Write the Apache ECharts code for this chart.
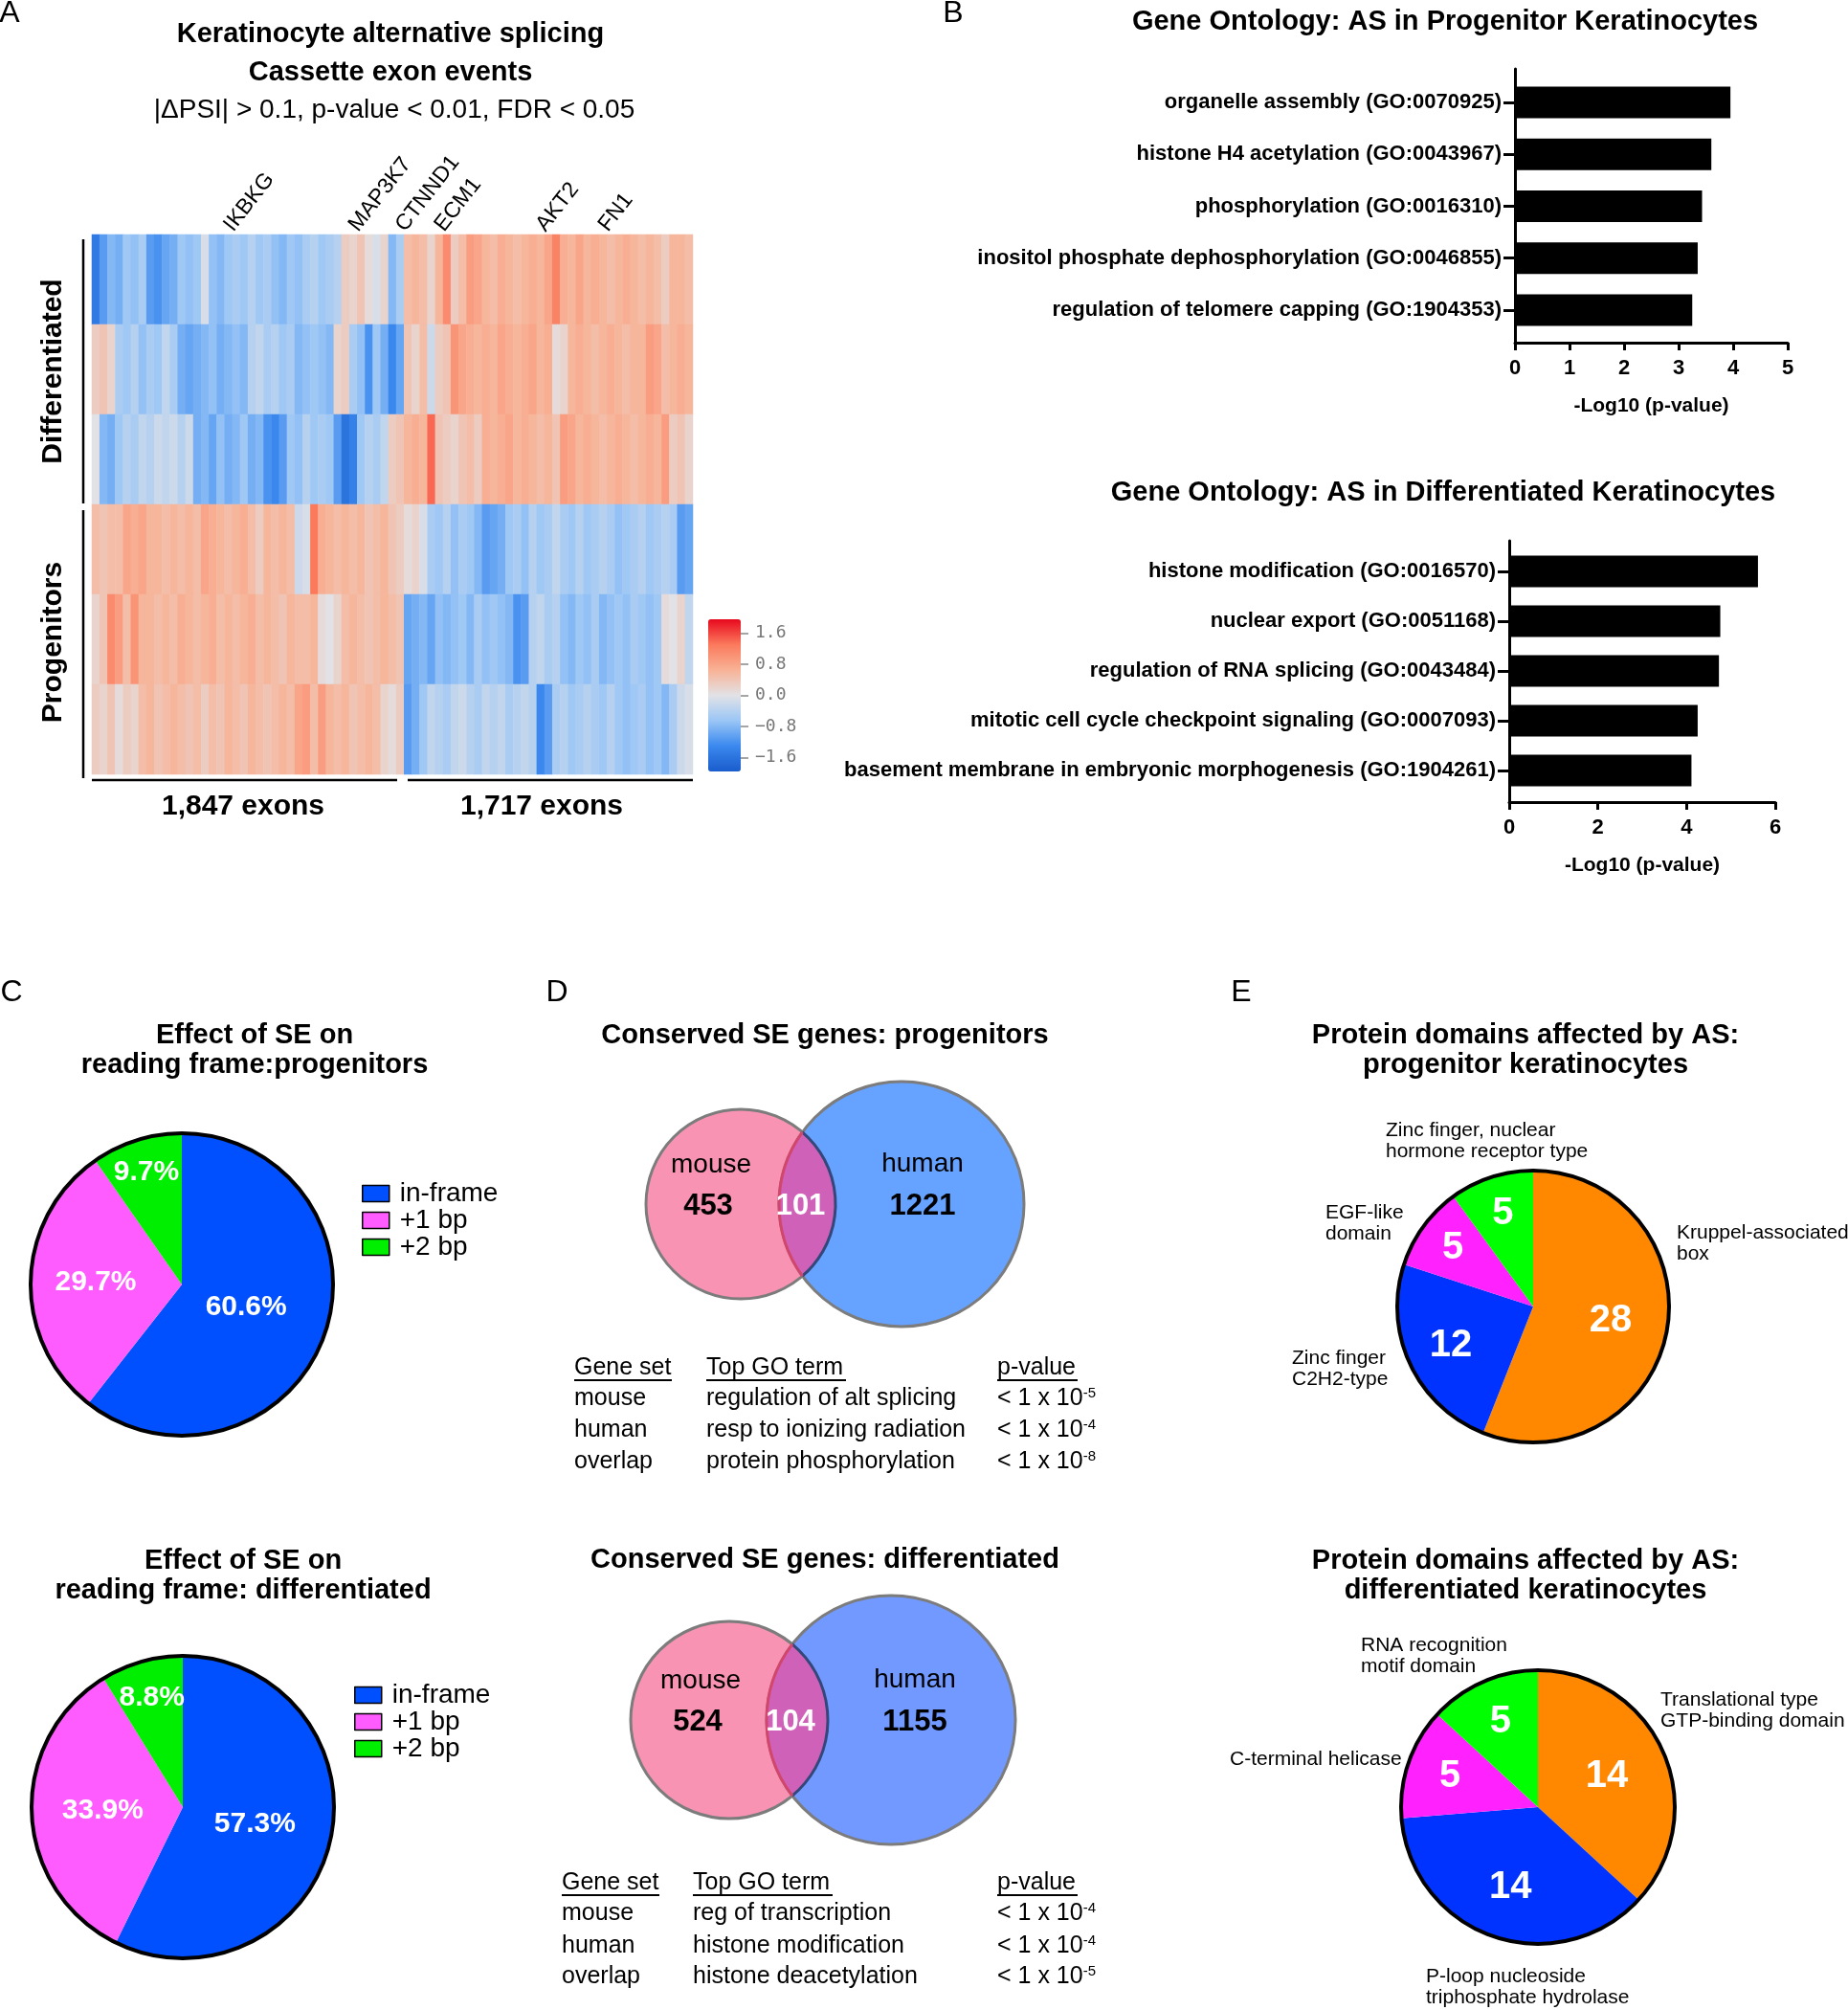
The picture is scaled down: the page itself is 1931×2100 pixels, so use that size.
<!DOCTYPE html>
<html>
<head>
<meta charset="utf-8">
<script src="https://cdn.jsdelivr.net/npm/echarts@6/dist/echarts.min.js"></script>
<style>
html,body{margin:0;padding:0;background:#fff;}
#c{width:1931px;height:2100px;}
</style>
</head>
<body>
<div id="c"></div>
<script>
// ======================= DATA =======================
// Panel A: heatmap (z-scored PSI), 40 columns of "1,847 exons" block + 37 columns of "1,717 exons" block
const heatRows = ['Differentiated 1','Differentiated 2','Differentiated 3','Progenitors 1','Progenitors 2','Progenitors 3'];
const heatDiff1 = [-1.5,-1.1,-0.8,-0.9,-0.6,-0.7,-0.5,-1.1,-1.2,-1.0,-0.9,-0.6,-0.7,-0.6,-0.1,-0.7,-0.8,-0.6,-0.5,-0.6,-0.4,-0.6,-0.5,-0.7,-0.8,-0.6,-0.7,-0.5,-0.4,-0.6,-0.5,-0.4,0.3,0.2,0.4,0.1,-0.1,0.2,-0.8,-0.5,
  0.5,0.6,0.5,0.2,0.6,1.1,0.3,0.5,0.9,0.8,0.6,0.5,0.7,0.6,0.5,0.6,0.7,0.6,0.8,1.2,0.7,0.6,0.8,0.6,0.7,0.6,0.5,0.6,0.7,0.6,0.5,0.6,0.5,0.3,0.6,0.6,0.5];
const heatDiff2 = [0.3,0.4,0.2,-0.5,-0.6,-0.4,-0.7,-0.5,-0.6,-0.3,-0.5,-0.9,-1.0,-0.9,-0.8,-0.7,-0.9,-0.8,-0.7,-0.8,-0.4,-0.3,-0.5,-0.4,-0.6,-0.5,-0.8,-0.7,-0.6,-0.7,-0.8,0.2,0.3,-0.5,-0.7,-1.2,-0.6,-0.9,-1.3,-1.0,
  0.4,0.2,0.5,-0.2,0.3,0.4,1.0,0.8,0.7,0.6,0.7,0.6,0.8,0.7,0.6,0.7,0.8,0.6,0.7,0.1,0.2,0.6,0.7,0.6,0.5,0.6,0.7,0.6,0.5,0.6,0.6,0.9,0.8,0.5,0.6,0.7,0.6];
const heatDiff3 = [0.0,-0.8,-0.9,-0.6,-0.4,-0.5,-0.3,-0.4,-0.2,-0.3,-0.2,-0.4,-0.2,-0.9,-0.8,-1.0,-0.7,-0.9,-0.8,-0.6,-0.9,-0.8,-1.2,-1.3,-1.1,-0.6,-0.7,-0.4,-0.6,-0.5,-0.6,-1.1,-1.6,-1.4,-0.6,-0.4,-0.5,-0.3,0.3,0.4,
  0.6,0.7,0.6,1.4,0.4,0.3,0.2,0.4,0.5,0.3,0.7,0.6,0.7,0.8,0.6,0.7,0.6,0.5,0.6,0.4,0.9,0.8,0.6,0.7,0.6,0.5,0.6,0.7,0.6,0.5,0.6,0.7,0.6,0.9,0.3,0.4,0.2];
const heatProg1 = [0.5,0.4,0.5,0.5,0.8,0.7,0.8,0.6,0.6,0.5,0.6,0.5,0.6,0.5,0.8,0.7,0.6,0.5,0.6,0.7,0.5,0.3,0.6,0.5,0.6,0.5,-0.2,-0.1,1.3,0.7,0.6,0.5,0.6,0.5,0.6,0.4,0.5,0.6,0.4,0.3,
  0.1,0.2,-0.1,-0.5,-0.6,-0.4,-0.7,-0.5,-0.6,-0.8,-1.1,-1.0,-0.9,-0.6,-0.5,-0.7,-0.4,-0.6,-0.5,-0.3,-0.5,-0.6,-0.4,-0.6,-0.5,-0.4,-0.5,-0.7,-0.6,-0.5,-0.4,-0.6,-0.5,-0.4,-0.5,-1.1,-1.0];
const heatProg2 = [0.2,0.4,1.1,0.9,0.5,1.0,0.6,0.6,0.5,0.6,0.5,0.7,0.6,0.5,0.6,0.7,0.5,0.6,0.5,0.6,0.7,0.5,0.6,0.5,0.4,0.6,0.5,0.5,0.6,0.1,0.0,0.2,0.5,0.6,0.5,0.4,0.5,0.6,0.5,0.4,
  -1.0,-0.9,-0.8,-1.0,-0.7,-0.8,-0.7,-0.6,-0.8,-0.5,-0.7,-0.6,-0.7,-0.8,-1.2,-1.1,-0.4,-0.3,-0.5,-0.4,-0.7,-0.8,-0.6,-0.7,-0.5,-0.8,-0.7,-0.6,-0.7,-0.5,-0.6,-0.7,-0.6,0.1,0.0,0.2,-0.3];
const heatProg3 = [0.3,0.2,0.4,0.1,0.3,0.2,0.5,0.6,0.4,0.5,0.6,0.5,0.4,0.5,0.3,0.5,0.4,0.6,0.5,0.4,0.6,0.5,0.4,0.5,0.6,0.5,0.8,0.9,0.5,0.9,0.6,0.5,0.6,0.4,0.5,0.6,0.5,0.2,0.1,0.3,
  -1.1,-0.9,-0.6,-0.3,-0.4,-0.5,-0.3,-0.2,-0.4,-0.5,-0.3,-0.4,-0.3,-0.5,-0.4,-0.3,-0.4,-1.3,-1.1,-0.5,-0.4,-0.6,-0.5,-0.4,-0.5,-0.6,-0.4,-0.6,-0.7,-0.6,-0.5,-0.7,-0.6,-0.8,-0.5,-0.2,-0.1];
const geneLabels = ['IKBKG','MAP3K7','CTNND1','ECM1','AKT2','FN1'];
const geneColumns = [17,33,39,44,57,65];
const exonBlocks = ['1,847 exons','1,717 exons'];
const colorbarTicks = [1.6,0.8,0,-0.8,-1.6];

// Panel B: GO enrichment (-log10 p)
const goProgTerms = ['organelle assembly (GO:0070925)','histone H4 acetylation (GO:0043967)','phosphorylation (GO:0016310)','inositol phosphate dephosphorylation (GO:0046855)','regulation of telomere capping (GO:1904353)'];
const goProgValues = [3.95,3.60,3.43,3.35,3.25];
const goDiffTerms = ['histone modification (GO:0016570)','nuclear export (GO:0051168)','regulation of RNA splicing (GO:0043484)','mitotic cell cycle checkpoint signaling (GO:0007093)','basement membrane in embryonic morphogenesis (GO:1904261)'];
const goDiffValues = [5.61,4.76,4.73,4.25,4.11];

// Panel C: reading frame (%)
const frameNames = ['in-frame','+1 bp','+2 bp'];
const frameProg = [60.6,29.7,9.7];
const frameDiff = [57.3,33.9,8.8];

// Panel D: Venn counts [mouse only, overlap, human only]
const vennSetNames = ['mouse','human'];
const vennProg = [453,101,1221];
const vennDiff = [524,104,1155];
const tableHeaders = ['Gene set','Top GO term','p-value'];
const tableSets = ['mouse','human','overlap'];
const tableProgTerms = ['regulation of alt splicing','resp to ionizing radiation','protein phosphorylation'];
const tableProgExp = ['-5','-4','-8'];
const tableDiffTerms = ['reg of transcription','histone modification','histone deacetylation'];
const tableDiffExp = ['-4','-4','-5'];

// Panel E: protein domains (counts)
const domProgNames = ['Kruppel-associated\nbox','Zinc finger\nC2H2-type','EGF-like\ndomain','Zinc finger, nuclear\nhormone receptor type'];
const domProgValues = [28,12,5,5];
const domDiffNames = ['Translational type\nGTP-binding domain','P-loop nucleoside\ntriphosphate hydrolase','C-terminal helicase','RNA recognition\nmotif domain'];
const domDiffValues = [14,14,5,5];

// ======================= STYLE / LAYOUT =======================
const FONT = "'Liberation Sans', Arial, Helvetica, sans-serif";
const frameColors = ['#0050ff','#ff5cff','#00ee00'];
const domColors = ['#ff8800','#0033ff','#ff22ff','#00ff00'];
const heatColors = ['#1a5ccc','#3a88ee','#9ac6f6','#e2e2e6','#f8b296','#fb7a5c','#e8081e'];

const chart = echarts.init(document.getElementById('c'), null, {renderer:'canvas', width:1931, height:2100});

// ---- heatmap data ----
const heatAll = [heatDiff1, heatDiff2, heatDiff3, heatProg1, heatProg2, heatProg3];
const nCols = heatDiff1.length;
const colCats = Array.from({length:nCols}, (_, i) => 'c' + i);
const heatData = [];
heatAll.forEach((row, r) => row.forEach((v, c) => heatData.push([c, r, v])));

const grids = [
  {left:96, top:245, width:628, height:564},        // 0 heatmap
  {left:773, top:647, width:1, height:159},         // 1 colorbar ticks
  {left:1583, top:72, width:285, height:286},       // 2 B1 frame
  {left:1583, top:80, width:285, height:271},       // 3 B1 bars
  {left:1577, top:565, width:278, height:273},      // 4 B2 frame
  {left:1577, top:571, width:278, height:260},      // 5 B2 bars
  {left:774, top:1158, width:168, height:200},      // 6 venn D1
  {left:762, top:1697, width:169, height:200}       // 7 venn D2
].map(g => Object.assign({containLabel:false}, g));

const boldAx = {fontFamily:FONT, fontWeight:'bold', color:'#000'};
const hidden = {show:false};

const xAxes = [
  {gridIndex:0, type:'category', data:colCats, position:'top', axisLine:hidden, axisTick:hidden, splitLine:hidden,
    axisLabel:{interval:0, rotate:-52, margin:6, fontFamily:FONT, fontSize:23, color:'#000',
      formatter:(v, i) => { const k = geneColumns.indexOf(i); return k >= 0 ? geneLabels[k] : ''; }}},
  {gridIndex:1, type:'value', show:false},
  {gridIndex:2, type:'value', min:0, max:5, interval:1,
    axisLine:{show:true, onZero:false, lineStyle:{color:'#000', width:3}},
    axisTick:{show:true, length:8, lineStyle:{color:'#000', width:3}},
    axisLabel:Object.assign({fontSize:22, margin:16}, boldAx), splitLine:hidden,
    name:'-Log10 (p-value)', nameLocation:'middle', nameGap:56, nameTextStyle:Object.assign({fontSize:21}, boldAx)},
  {gridIndex:3, type:'value', min:0, max:5, show:false},
  {gridIndex:4, type:'value', min:0, max:6, interval:2,
    axisLine:{show:true, onZero:false, lineStyle:{color:'#000', width:3}},
    axisTick:{show:true, length:8, lineStyle:{color:'#000', width:3}},
    axisLabel:Object.assign({fontSize:22, margin:16}, boldAx), splitLine:hidden,
    name:'-Log10 (p-value)', nameLocation:'middle', nameGap:56, nameTextStyle:Object.assign({fontSize:21}, boldAx)},
  {gridIndex:5, type:'value', min:0, max:6, show:false},
  {gridIndex:6, type:'value', min:0, max:1, show:false},
  {gridIndex:7, type:'value', min:0, max:1, show:false}
];
const yAxes = [
  {gridIndex:0, type:'category', data:heatRows, inverse:true, show:false},
  {gridIndex:1, type:'value', min:-1.95, max:1.95, position:'right', axisLine:hidden, splitLine:hidden,
    axisTick:{show:true, customValues:colorbarTicks, length:9, lineStyle:{color:'#888', width:1.5}},
    axisLabel:{customValues:colorbarTicks, margin:15, fontFamily:"'DejaVu Sans Mono', monospace", fontSize:18, color:'#777',
      formatter:v => (v < 0 ? '\u2212' : '') + Math.abs(v).toFixed(1)}},
  {gridIndex:2, type:'value', min:0, max:1, axisLine:{show:true, lineStyle:{color:'#000', width:3}}, axisTick:hidden, axisLabel:hidden, splitLine:hidden},
  {gridIndex:3, type:'category', data:goProgTerms, inverse:true, axisLine:hidden,
    axisTick:{show:true, alignWithLabel:true, length:12, lineStyle:{color:'#000', width:3}},
    axisLabel:Object.assign({fontSize:22, margin:14, interval:0}, boldAx)},
  {gridIndex:4, type:'value', min:0, max:1, axisLine:{show:true, lineStyle:{color:'#000', width:3}}, axisTick:hidden, axisLabel:hidden, splitLine:hidden},
  {gridIndex:5, type:'category', data:goDiffTerms, inverse:true, axisLine:hidden,
    axisTick:{show:true, alignWithLabel:true, length:12, lineStyle:{color:'#000', width:3}},
    axisLabel:Object.assign({fontSize:22, margin:14, interval:0}, boldAx)},
  {gridIndex:6, type:'value', min:-1, max:1, show:false},
  {gridIndex:7, type:'value', min:-1, max:1, show:false}
];

const series = [];
series.push({type:'heatmap', name:'heat', xAxisIndex:0, yAxisIndex:0, data:heatData,
  itemStyle:{borderWidth:0}, emphasis:{disabled:true}, silent:true});
series.push({type:'bar', name:'goProg', xAxisIndex:3, yAxisIndex:3, data:goProgValues, barWidth:33, itemStyle:{color:'#000'}, silent:true});
series.push({type:'bar', name:'goDiff', xAxisIndex:5, yAxisIndex:5, data:goDiffValues, barWidth:33, itemStyle:{color:'#000'}, silent:true});

// ---- pies ----
function pieSet(id, names, values, colors, center, r, fracs, fmt, fontSize, nameOffsets) {
  const total = values.reduce((a, b) => a + b, 0);
  const mids = []; let acc = 0;
  values.forEach(v => { mids.push((acc + v / 2) / total * 2 * Math.PI); acc += v; });
  const out = [];
  out.push({type:'pie', name:id, center:center, radius:[0, r], startAngle:90, clockwise:true,
    avoidLabelOverlap:false, silent:true, emphasis:{disabled:true},
    data:names.map((n, i) => ({name:n, value:values[i], itemStyle:{color:colors[i]}})),
    itemStyle:{borderWidth:0},
    label:{show:true, position:'inside', formatter:fmt, color:'#fff', fontFamily:FONT, fontWeight:'bold', fontSize:fontSize},
    labelLine:{show:false},
    labelLayout:p => ({x:center[0] + Math.sin(mids[p.dataIndex]) * r * fracs[p.dataIndex],
                       y:center[1] - Math.cos(mids[p.dataIndex]) * r * fracs[p.dataIndex],
                       align:'center', verticalAlign:'middle'})});
  if (nameOffsets) {
    out.push({type:'pie', name:id + 'names', center:center, radius:[0, r], startAngle:90, clockwise:true,
      avoidLabelOverlap:false, silent:true, emphasis:{disabled:true},
      data:names.map((n, i) => ({name:n, value:values[i]})),
      itemStyle:{color:'rgba(0,0,0,0)', borderWidth:0},
      label:{show:true, position:'outside', alignTo:'none', formatter:'{b}', color:'#000', fontFamily:FONT, fontSize:21, lineHeight:22},
      labelLine:{show:false},
      labelLayout:p => ({x:center[0] + nameOffsets[p.dataIndex][0], y:center[1] + nameOffsets[p.dataIndex][1], align:'left', verticalAlign:'middle'})});
  }
  out.push({type:'pie', name:id + 'outline', center:center, radius:[0, r], silent:true, emphasis:{disabled:true},
    data:[{name:'outline', value:1}], itemStyle:{color:'rgba(0,0,0,0)', borderColor:'#000', borderWidth:4},
    label:{show:false}, labelLine:{show:false}, z:5});
  return out;
}
series.push(...pieSet('frameProg', frameNames, frameProg, frameColors, [190, 1342], 158, [0.45, 0.57, 0.78], '{c}%', 30));
series.push(...pieSet('frameDiff', frameNames, frameDiff, frameColors, [191, 1888], 158, [0.49, 0.53, 0.75], '{c}%', 30));
series.push(...pieSet('domProg', domProgNames, domProgValues, domColors, [1602, 1365], 142, [0.58, 0.67, 0.73, 0.72], '{c}', 40,
  [[150, -66], [-252, 65], [-217, -87], [-154, -173]]));
series.push(...pieSet('domDiff', domDiffNames, domDiffValues, domColors, [1607, 1888], 143, [0.55, 0.62, 0.68, 0.68], '{c}', 40,
  [[128, -101], [-117, 188], [-322, -50], [-185, -158]]));

// ---- venn (custom series) ----
function vennSeries(gridIdx, counts, radii, humanColor, dxMouse, dxHuman) {
  return {type:'custom', name:'venn' + gridIdx, xAxisIndex:gridIdx, yAxisIndex:gridIdx, silent:true,
    data:[[0, 1]],
    renderItem:function(params, api) {
      const pm = api.coord([api.value(0), 0]);
      const ph = api.coord([api.value(1), 0]);
      const rm = radii[0], rh = radii[1];
      const d = ph[0] - pm[0];
      const a = (d * d + rm * rm - rh * rh) / (2 * d);
      const h = Math.sqrt(rm * rm - a * a);
      const x1 = pm[0] + a, yT = pm[1] - h, yB = pm[1] + h;
      const lens = `M${x1} ${yT} A${rm} ${rm} 0 0 1 ${x1} ${yB} A${rh} ${rh} 0 0 1 ${x1} ${yT} Z`;
      const arcM = `M${x1} ${yT} A${rm} ${rm} 0 0 1 ${x1} ${yB}`;
      const arcH = `M${x1} ${yB} A${rh} ${rh} 0 0 1 ${x1} ${yT}`;
      const lensMid = ((ph[0] - rh) + (pm[0] + rm)) / 2 - 7;
      const txt = (x, y, t, font, fill) => ({type:'text', x:x, y:y,
        style:{text:t, font:font, fill:fill, align:'center', verticalAlign:'middle', textAlign:'center', textVerticalAlign:'middle'}});
      const nameFont = '28px ' + FONT, numFont = 'bold 31px ' + FONT;
      return {type:'group', children:[
        {type:'circle', shape:{cx:pm[0], cy:pm[1], r:rm}, style:{fill:'#f993b3', stroke:'#7c7c7c', lineWidth:3}},
        {type:'circle', shape:{cx:ph[0], cy:ph[1], r:rh}, style:{fill:humanColor, stroke:'#7c7c7c', lineWidth:3}},
        {type:'path', shape:{pathData:lens}, style:{fill:'#cf62b8', stroke:null}},
        {type:'path', shape:{pathData:arcM}, style:{fill:null, stroke:'#34477a', lineWidth:3}},
        {type:'path', shape:{pathData:arcH}, style:{fill:null, stroke:'#d3466c', lineWidth:3}},
        txt(pm[0] + dxMouse, pm[1] - 41, vennSetNames[0], nameFont, '#000'),
        txt(pm[0] + dxMouse - 3, pm[1] + 2, String(counts[0]), numFont, '#000'),
        txt(lensMid, pm[1] + 2, String(counts[1]), numFont, '#fff'),
        txt(ph[0] + dxHuman, ph[1] - 42, vennSetNames[1], nameFont, '#000'),
        txt(ph[0] + dxHuman, ph[1] + 2, String(counts[2]), numFont, '#000')
      ]};
    }};
}
series.push(vennSeries(6, vennProg, [99, 128], '#66a2ff', -31, 22));
series.push(vennSeries(7, vennDiff, [103, 130], '#7199ff', -30, 25));

// ---- graphic texts / annotations ----
const G = [];
function gtext(x, y, text, font, opts) {
  opts = opts || {};
  const el = {type:'text', x:x, y:y, silent:true,
    style:Object.assign({text:text, font:font, fill:'#000', align:'center', verticalAlign:'middle',
      textAlign:'center', textVerticalAlign:'middle'}, opts.style || {})};
  if (opts.rotation) el.rotation = opts.rotation;
  G.push(el);
}
function gline(x1, y1, x2, y2, w) {
  G.push({type:'line', silent:true, shape:{x1:x1, y1:y1, x2:x2, y2:y2}, style:{stroke:'#000', lineWidth:w || 2.5}});
}
const TB = 'bold 29px ' + FONT;
// panel letters
[['A', 10, 14], ['B', 996, 14], ['C', 12, 1037], ['D', 582, 1037], ['E', 1297, 1037]].forEach(p => gtext(p[1], p[2], p[0], '32px ' + FONT));
// Panel A
gtext(408, 36, 'Keratinocyte alternative splicing', TB);
gtext(408, 76, 'Cassette exon events', TB);
gtext(412, 115, '|\u0394PSI| > 0.1, p-value < 0.01, FDR < 0.05', '28px ' + FONT);
gtext(56, 388, 'Differentiated', 'bold 30px ' + FONT, {rotation:Math.PI / 2});
gtext(56, 671, 'Progenitors', 'bold 30px ' + FONT, {rotation:Math.PI / 2});
gline(87, 250, 87, 526); gline(87, 533, 87, 813);
gline(96, 815, 415, 815); gline(426, 815, 724, 815);
gtext(254, 843, exonBlocks[0], 'bold 30px ' + FONT);
gtext(566, 843, exonBlocks[1], 'bold 30px ' + FONT);
// Panel B
gtext(1510, 23, 'Gene Ontology: AS in Progenitor Keratinocytes', TB);
gtext(1508, 515, 'Gene Ontology: AS in Differentiated Keratinocytes', TB);
// Panel C
gtext(266, 1097, 'Effect of SE on\nreading frame:progenitors', TB, {style:{lineHeight:31}});
gtext(254, 1646, 'Effect of SE on\nreading frame: differentiated', TB, {style:{lineHeight:31}});
// Panel D
gtext(862, 1082, 'Conserved SE genes: progenitors', TB);
gtext(862, 1630, 'Conserved SE genes: differentiated', TB);
function table(cols, headY, rowYs, terms, exps) {
  const f = '25px ' + FONT;
  tableHeaders.forEach((h, i) => {
    gtext(cols[i], headY, h, f, {style:{align:'left', textAlign:'left'}});
  });
  const hw = [102, 146, 84];
  hw.forEach((w, i) => gline(cols[i], headY + 13, cols[i] + w, headY + 13, 2));
  rowYs.forEach((y, r) => {
    gtext(cols[0], y, tableSets[r], f, {style:{align:'left', textAlign:'left'}});
    gtext(cols[1], y, terms[r], f, {style:{align:'left', textAlign:'left'}});
    gtext(cols[2], y, '< 1 x 10{sup|' + exps[r] + '}', f, {style:{align:'left', textAlign:'left',
      rich:{sup:{fontSize:15, fontFamily:FONT, verticalAlign:'top'}}}});
  });
}
table([600, 738, 1042], 1429, [1461, 1494, 1527], tableProgTerms, tableProgExp);
table([587, 724, 1042], 1967, [1999, 2033, 2065], tableDiffTerms, tableDiffExp);
// Panel E
gtext(1594, 1097, 'Protein domains affected by AS:\nprogenitor keratinocytes', TB, {style:{lineHeight:31}});
gtext(1594, 1646, 'Protein domains affected by AS:\ndifferentiated keratinocytes', TB, {style:{lineHeight:31}});

const legendBase = {orient:'vertical', itemWidth:28, itemHeight:17, itemGap:0, icon:'rect', data:frameNames,
  selectedMode:false, padding:0, textStyle:{fontFamily:FONT, fontSize:28, color:'#000', lineHeight:28, padding:[0, 0, 0, 6]},
  itemStyle:{borderColor:'#000', borderWidth:1.5}};

const option = {
  animation:false,
  backgroundColor:'#fff',
  textStyle:{fontFamily:FONT},
  grid:grids,
  xAxis:xAxes,
  yAxis:yAxes,
  visualMap:[{type:'continuous', seriesIndex:0, min:-1.95, max:1.95, left:740, top:647, itemWidth:34, itemHeight:159,
    calculable:false, padding:0, text:null, hoverLink:false, inRange:{color:heatColors}}],
  legend:[Object.assign({left:378, top:1233}, legendBase), Object.assign({left:370, top:1757}, legendBase)],
  series:series,
  graphic:G
};
chart.setOption(option);
</script>
</body>
</html>
